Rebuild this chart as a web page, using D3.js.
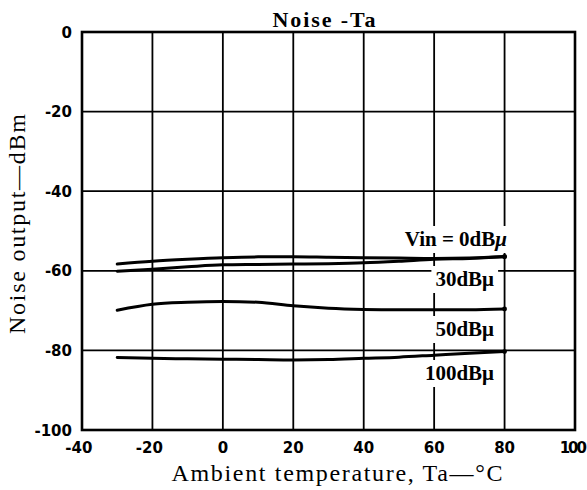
<!DOCTYPE html>
<html>
<head>
<meta charset="utf-8">
<script src="https://cdn.jsdelivr.net/npm/d3@7"></script>
<style>
html,body{margin:0;padding:0;background:#fff;}
svg{display:block;}
</style>
</head>
<body>
<svg id="chart" width="587" height="490"></svg>
<script>
// ---- data ----
const temps = [-30, -20, -10, 0, 10, 20, 30, 40, 50, 60, 70, 80];
const vin0  = [-58.3, -57.6, -57.1, -56.7, -56.5, -56.5, -56.6, -56.7, -56.8, -56.9, -56.8, -56.4];
const vin30 = [-60.1, -59.6, -59.0, -58.5, -58.4, -58.3, -58.2, -58.0, -57.6, -57.1, -56.9, -56.5];
const vin50 = [-69.9, -68.4, -67.9, -67.7, -67.9, -68.8, -69.4, -69.7, -69.8, -69.8, -69.8, -69.6];
const vin100= [-81.8, -82.0, -82.1, -82.2, -82.3, -82.4, -82.3, -82.0, -81.7, -81.2, -80.7, -80.3];
const seriesNames = ["Vin = 0dB", "30dB", "50dB", "100dB"];
const xTicks = [-40, -20, 0, 20, 40, 60, 80, 100];
const yTicks = [0, -20, -40, -60, -80, -100];
const titleText = "Noise  -Ta";
const xTitle = "Ambient temperature,  Ta—°C";
const yTitle = "Noise  output—dBm";

// ---- layout ----
const svg = d3.select("#chart");
const x = d3.scaleLinear().domain([-40, 100]).range([82, 575]);
const y = d3.scaleLinear().domain([-100, 0]).range([430, 32]);
const serif = "'Liberation Serif','Times New Roman',serif";
const heavy = "'DejaVu Sans',sans-serif";

// grid
const g = svg.append("g");
g.selectAll(".vg").data(xTicks.slice(1, -1)).enter().append("line")
  .attr("x1", d => x(d)).attr("x2", d => x(d))
  .attr("y1", y(0)).attr("y2", y(-100))
  .attr("stroke", "#000").attr("stroke-width", 1.8);
g.selectAll(".hg").data(yTicks.slice(1, -1)).enter().append("line")
  .attr("x1", x(-40)).attr("x2", x(100))
  .attr("y1", d => y(d)).attr("y2", d => y(d))
  .attr("stroke", "#000").attr("stroke-width", 1.8);
// frame
svg.append("rect")
  .attr("x", x(-40)).attr("y", y(0))
  .attr("width", x(100) - x(-40)).attr("height", y(-100) - y(0))
  .attr("fill", "none").attr("stroke", "#000").attr("stroke-width", 2.6);

// y tick labels
svg.selectAll(".yt").data(yTicks).enter().append("text")
  .attr("x", 72).attr("y", d => y(d) + 5.5)
  .attr("text-anchor", "end")
  .attr("font-family", heavy).attr("font-weight", "bold").attr("font-size", 15)
  .text(d => d === 0 ? "0" : "-" + Math.abs(d));

// x tick labels: digits centred on tick, minus hanging to the left
xTicks.forEach(d => {
  const big = Math.abs(d) >= 100;
  const t = svg.append("text")
    .attr("x", big ? 585 : x(d)).attr("y", 453)
    .attr("text-anchor", big ? "end" : "middle")
    .attr("font-family", heavy).attr("font-weight", "bold")
    .attr("font-size", 15)
    .attr("letter-spacing", big ? -2 : 0)
    .text(Math.abs(d));
  if (d < 0) {
    const w = t.node().getComputedTextLength();
    svg.append("text")
      .attr("x", x(d) - w / 2).attr("y", 453)
      .attr("text-anchor", "end")
      .attr("font-family", heavy).attr("font-weight", "bold").attr("font-size", 15)
      .text("-");
  }
});

// titles
svg.append("text")
  .attr("x", 324).attr("y", 27).attr("text-anchor", "middle")
  .attr("font-family", serif).attr("font-weight", "bold").attr("font-size", 22)
  .attr("textLength", 103).attr("lengthAdjust", "spacing")
  .text(titleText);
svg.append("text")
  .attr("x", 337).attr("y", 481).attr("text-anchor", "middle")
  .attr("font-family", serif).attr("font-size", 24)
  .attr("textLength", 331).attr("lengthAdjust", "spacing")
  .text(xTitle);
svg.append("text")
  .attr("transform", "translate(25,224) rotate(-90)")
  .attr("text-anchor", "middle")
  .attr("font-family", serif).attr("font-size", 24)
  .attr("textLength", 220).attr("lengthAdjust", "spacing")
  .text(yTitle);

// curve labels with white boxes
const labelSpecs = [
  {name: seriesNames[0], xEnd: 507, base: 246, italicMu: true},
  {name: seriesNames[1], xEnd: 494, base: 286, italicMu: false},
  {name: seriesNames[2], xEnd: 494, base: 336, italicMu: false},
  {name: seriesNames[3], xEnd: 494, base: 380, italicMu: false}
];
labelSpecs.forEach(s => {
  const t = svg.append("text")
    .attr("x", s.xEnd).attr("y", s.base).attr("text-anchor", "end")
    .attr("font-family", serif).attr("font-weight", "bold").attr("font-size", 21);
  t.append("tspan").text(s.name);
  t.append("tspan").attr("font-style", s.italicMu ? "italic" : "normal").text("μ");
  const b = t.node().getBBox();
  svg.insert("rect", function() { return t.node(); })
    .attr("x", b.x - 4).attr("y", b.y - 1)
    .attr("width", b.width + 8).attr("height", b.height + 3)
    .attr("fill", "#fff");
});

// curves
const line = d3.line().x(d => x(d[0])).y(d => y(d[1])).curve(d3.curveMonotoneX);
[vin0, vin30, vin50, vin100].forEach(vals => {
  const pts = temps.map((t, i) => [t, vals[i]]);
  svg.append("path").datum(pts)
    .attr("d", line).attr("fill", "none")
    .attr("stroke", "#000").attr("stroke-width", 3).attr("stroke-linecap", "round");
  svg.append("circle")
    .attr("cx", x(temps[temps.length - 1])).attr("cy", y(vals[vals.length - 1]))
    .attr("r", 2.4).attr("fill", "#000");
});
</script>
</body>
</html>
